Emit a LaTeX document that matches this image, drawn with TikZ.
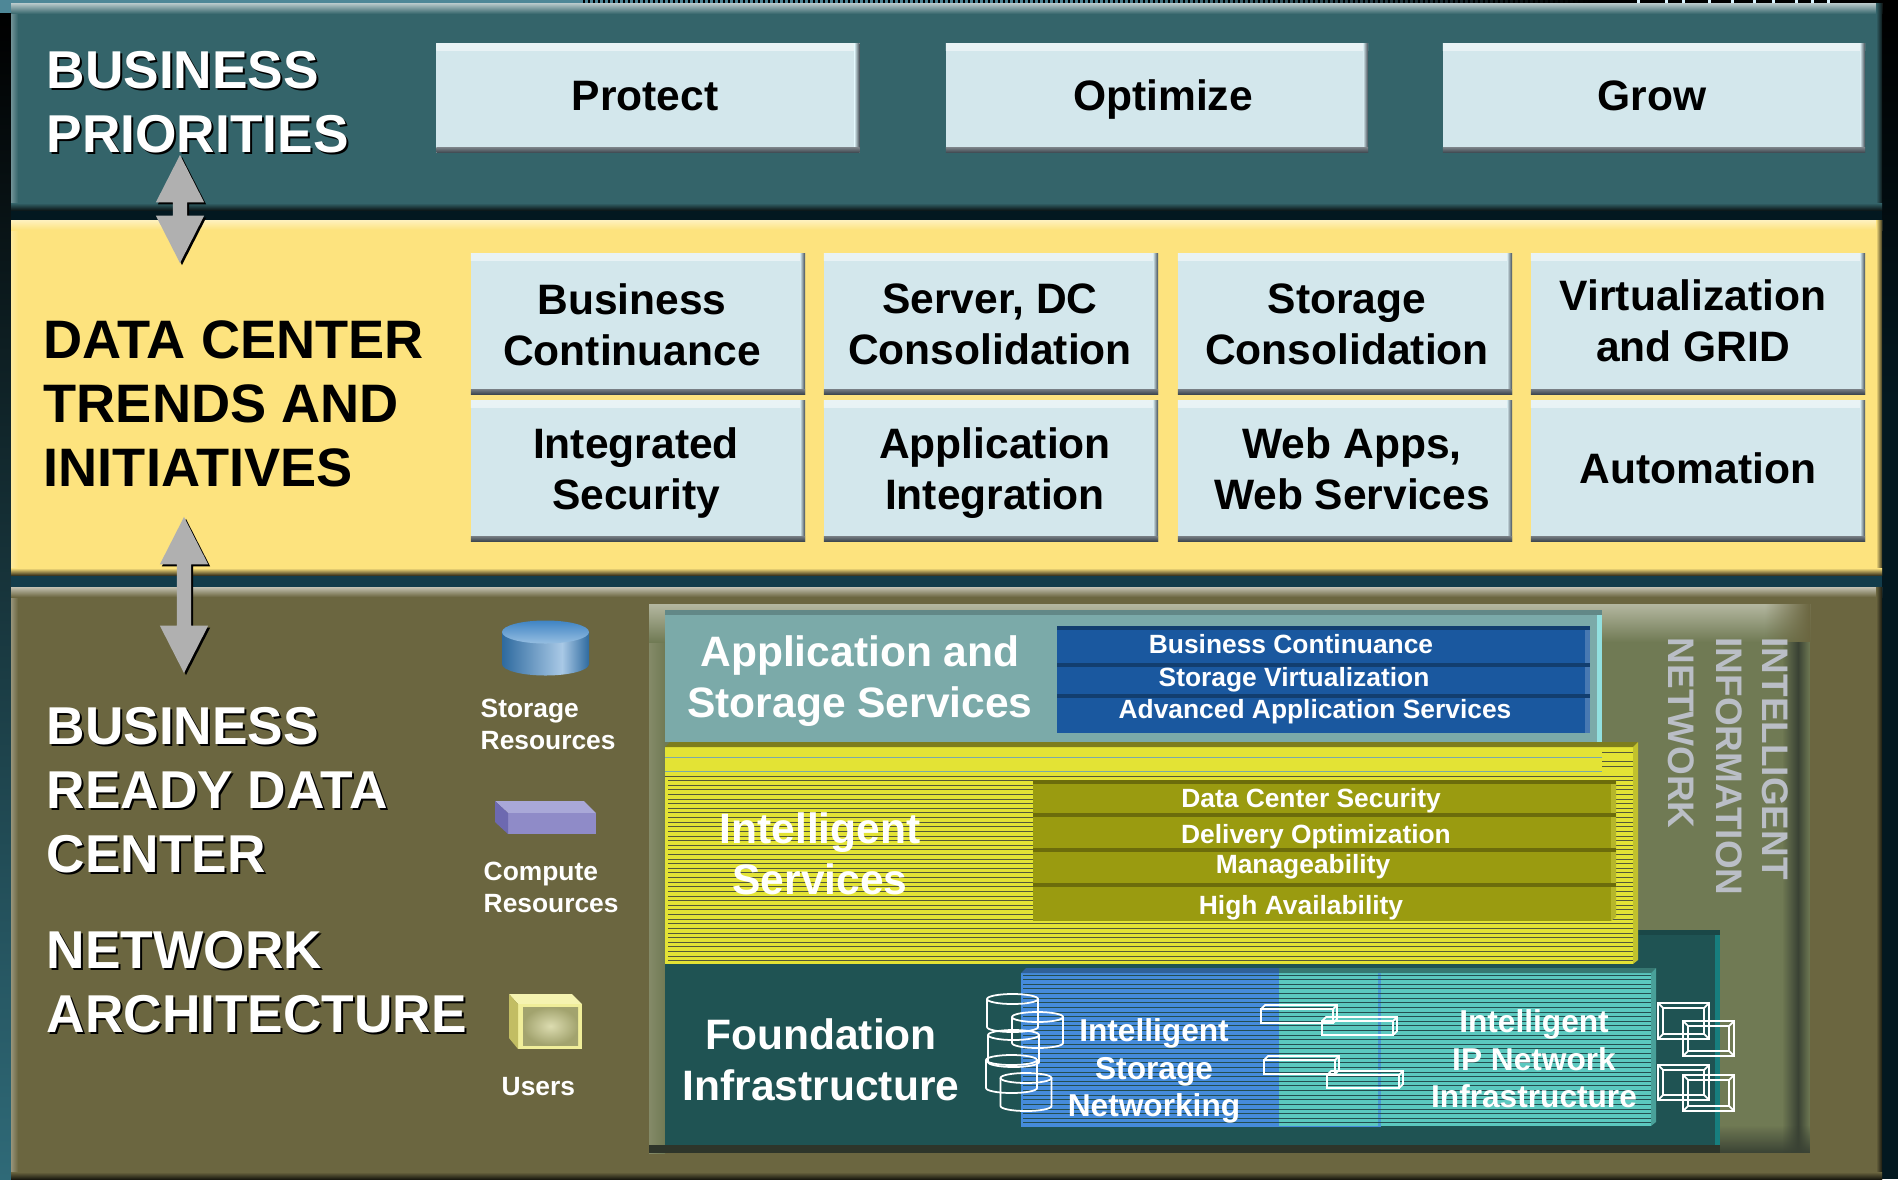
\documentclass[tikz,border=0pt]{standalone}
\usepackage{fontspec}
\setmainfont{Liberation Sans}
\usetikzlibrary{shapes,arrows,shadows,fadings}

\definecolor{prioteal}{RGB}{52,100,106}
\definecolor{trendyellow}{RGB}{253,227,126}
\definecolor{readyolive}{RGB}{107,102,64}
\definecolor{boxpale}{RGB}{211,231,236}
\definecolor{boxdark}{RGB}{62,72,80}
\definecolor{arrowgrey}{RGB}{176,176,176}
\definecolor{stripteal}{RGB}{78,135,151}
\definecolor{backteal}{RGB}{47,106,120}
\definecolor{gaptop}{RGB}{3,24,32}
\definecolor{gaplow}{RGB}{18,60,75}
\definecolor{panelgreen}{RGB}{112,122,84}
\definecolor{paneltop}{RGB}{180,183,160}
\definecolor{panelside}{RGB}{132,138,104}
\definecolor{paneldark}{RGB}{58,66,52}
\definecolor{appteal}{RGB}{123,170,169}
\definecolor{appblue}{RGB}{26,88,159}
\definecolor{svcyellow}{RGB}{227,227,53}
\definecolor{svcolive}{RGB}{154,155,16}
\definecolor{fndgreen}{RGB}{31,83,83}
\definecolor{fndblue}{RGB}{69,139,219}
\definecolor{fndaqua}{RGB}{91,200,191}
\definecolor{sidetext}{RGB}{186,190,198}
\definecolor{stripedark}{RGB}{84,88,58}
\definecolor{stripegreen}{RGB}{36,78,80}
\definecolor{cylside}{RGB}{46,106,159}
\definecolor{cyllight}{RGB}{169,201,230}
\definecolor{cyltop}{RGB}{63,132,196}
\definecolor{cyltoplow}{RGB}{150,190,225}
\definecolor{comptop}{RGB}{169,168,216}
\definecolor{compfront}{RGB}{143,139,200}
\definecolor{compside}{RGB}{109,105,176}
\definecolor{usertop}{RGB}{245,243,176}
\definecolor{userfront}{RGB}{240,238,154}
\definecolor{userside}{RGB}{194,189,99}
\definecolor{usernear}{RGB}{220,220,176}
\definecolor{userfar}{RGB}{162,163,110}

\tikzset{
    litebox/.style={rectangle, fill=boxpale, inner sep=0pt,
        path picture={
            \shade[top color=white!50!boxpale, bottom color=boxpale] (path picture bounding box.north west) rectangle ([yshift=-0.07cm]path picture bounding box.north east);
            \shade[left color=boxpale, right color=boxdark] ([xshift=-0.05cm]path picture bounding box.south east) rectangle (path picture bounding box.north east);
            \shade[top color=boxdark!70, bottom color=boxdark] (path picture bounding box.south west) rectangle ([yshift=0.05cm]path picture bounding box.south east);
        }},
    boxtext/.style={align=center, inner sep=0pt, font=\bigfont, execute at begin node=\strut, execute at end node=\strut},
    headline/.style={anchor=west, align=left, inner sep=0pt, font=\headfont},
    bigwhite/.style={text=white, align=center, inner sep=0pt, font=\bigfont},
    midwhite/.style={text=white, align=center, inner sep=0pt, font=\midfont},
    smallwhite/.style={text=white, inner sep=0pt, font=\smallfont},
    sidelabel/.style={rotate=-90, anchor=west, inner sep=0pt, text=sidetext, font=\sidefont},
    blockarrow/.style={double arrow, shape border rotate=90, fill=arrowgrey, inner sep=0.065cm,
        minimum width=0.47cm, double arrow tip angle=54, double arrow head extend=0.17cm,
        drop shadow={shadow xshift=0.02cm, shadow yshift=-0.02cm, fill=black, opacity=1}},
    wire/.style={draw=white, line width=0.5pt},
    stripe/.style={line width=0.25pt}
}

\newcommand{\headfont}{\fontsize{15.15}{18.1}\selectfont\bfseries}
\newcommand{\trendfont}{\fontsize{15.4}{18.1}\selectfont\bfseries}
\newcommand{\bigfont}{\fontsize{12.1}{14.6}\selectfont\bfseries}
\newcommand{\midfont}{\fontsize{9}{10.7}\selectfont\bfseries}
\newcommand{\smallfont}{\fontsize{7.5}{9.1}\selectfont\bfseries}
\newcommand{\sidefont}{\fontsize{10.5}{12}\selectfont\bfseries}

% one of the three bands: left, top, right, bottom, fill, top edge colour
\newcommand{\bandbox}[6]{
    \fill[#5] (#1,#2) rectangle (#3,#4);
    \shade[left color=#6!50!#5, right color=#5] (#1,#2) rectangle ({#1+7},#4);
    \shade[top color=#6, bottom color=#5] (#1,#2) rectangle (#3,{#2+10});
    \shade[left color=#5, right color=black!75!#5] ({#3-6},#2) rectangle (#3,#4);
    \shade[top color=#5, bottom color=black!75!#5] (#1,{#4-7}) rectangle (#3,#4);
}
% wire frame icons
\newcommand{\wirecyl}[3]{
    \draw[wire] (#1,#2) ellipse [x radius=0.255cm, y radius=0.05cm];
    \draw[wire] ({#1-25.5},#2) -- ({#1-25.5},#3) arc [start angle=180, end angle=360, x radius=0.255cm, y radius=0.05cm] -- ({#1+25.5},#2);
}
\newcommand{\wirebox}[4]{
    \draw[wire] (#1,{#2+4}) rectangle ({#3-4},#4);
    \draw[wire] (#1,{#2+4}) -- ({#1+4},#2) -- (#3,#2) -- (#3,{#4-4}) -- ({#3-4},#4);
    \draw[wire] ({#3-4},{#2+4}) -- (#3,#2);
}
\newcommand{\wirescreen}[4]{
    \draw[wire] (#1,#2) rectangle (#3,#4);
    \draw[wire] ({#1+5},{#2+5}) rectangle ({#3-5},{#4-5});
    \draw[wire] (#1,#2) -- ({#1+5},{#2+5}) (#3,#2) -- ({#3-5},{#2+5}) (#1,#4) -- ({#1+5},{#4-5}) (#3,#4) -- ({#3-5},{#4-5});
}

\begin{document}
\begin{tikzpicture}[x=0.01cm, y=-0.01cm]
    \useasboundingbox (0,0) rectangle (1898,1179);

    % Backdrop
    \fill[black] (0,0) rectangle (1898,1179);
    \shade[top color=black, bottom color=backteal] (0,13) rectangle (11,1179);
    \fill[gaptop] (11,210) rectangle (1882,220);
    \fill[gaplow] (11,575) rectangle (1882,587);
    \shade[top color=black, bottom color=gaptop] (1882,13) rectangle (1898,400);
    \fill[gaptop] (1882,400) rectangle (1898,1179);

    % Cut off strip along the top edge
    \fill[stripteal] (0,0) rectangle (580,13);
    \foreach \x [evaluate=\x as \p using {max(0,min(100,(1590-\x)/5))}] in {580,585,...,1590}
        \fill[stripteal!\p!black] (\x,0) rectangle ({\x+3},3);
    \foreach \x in {1637,1665,1682,1708,1731,1753,1772,1795,1811,1827}
        \fill[white!85!cyan] (\x,0) rectangle ({\x+3},4);

    % Bands
    \bandbox{11}{4}{1882}{210}{prioteal}{prioteal!40!white}
    \bandbox{11}{220}{1882}{575}{trendyellow}{trendyellow!50!white}
    \bandbox{11}{587}{1882}{1179}{readyolive}{readyolive!40!white}

    % Top band - priorities
    \node[litebox, minimum width=4.23cm, minimum height=1.09cm] (protect) at (648,98) {};
    \node[litebox, minimum width=4.22cm, minimum height=1.09cm] (optimize) at (1157,98) {};
    \node[litebox, minimum width=4.22cm, minimum height=1.09cm] (grow) at (1654,98) {};
    \node[boxtext] (protectText) at (645,100) {Protect};
    \node[boxtext] (optimizeText) at (1163,100) {Optimize};
    \node[boxtext] (growText) at (1652,100) {Grow};

    % Middle band - first row
    \node[litebox, minimum width=3.34cm, minimum height=1.40cm] (bizcont) at (638,324) {};
    \node[litebox, minimum width=3.34cm, minimum height=1.40cm] (serverdc) at (991,324) {};
    \node[litebox, minimum width=3.34cm, minimum height=1.40cm] (storecons) at (1345,324) {};
    \node[litebox, minimum width=3.34cm, minimum height=1.40cm] (virtgrid) at (1698,324) {};
    \node[boxtext] (bizcontText) at (632,332) {Business\\Continuance};
    \node[boxtext] (serverdcText) at (990,332) {Server, DC\\Consolidation};
    \node[boxtext] (storeconsText) at (1347,332) {Storage\\Consolidation};
    \node[boxtext] (virtgridText) at (1693,328) {Virtualization\\and GRID};

    % Middle band - second row
    \node[litebox, minimum width=3.34cm, minimum height=1.40cm] (intsec) at (638,471) {};
    \node[litebox, minimum width=3.34cm, minimum height=1.40cm] (appint) at (991,471) {};
    \node[litebox, minimum width=3.34cm, minimum height=1.40cm] (webapps) at (1345,471) {};
    \node[litebox, minimum width=3.34cm, minimum height=1.40cm] (autom) at (1698,471) {};
    \node[boxtext] (intsecText) at (636,476) {Integrated\\Security};
    \node[boxtext] (appintText) at (995,476) {Application\\Integration};
    \node[boxtext] (webappsText) at (1352,476) {Web Apps,\\Web Services};
    \node[boxtext] (automText) at (1698,473) {Automation};

    % Headings
    \foreach \col/\off in {black/2, white/0} {
        \node[headline, text=\col] (prioHead\col) at ({46+\off},{102+\off}) {BUSINESS\\PRIORITIES};
        \node[headline, text=\col] (readyHead\col) at ({46+\off},{790+\off}) {BUSINESS\\READY DATA\\CENTER};
        \node[headline, text=\col] (netHead\col) at ({46+\off},{982+\off}) {NETWORK\\ARCHITECTURE};
    }
    \node[headline, text=black, font=\trendfont] (trendHead) at (43,404) {DATA CENTER\\TRENDS AND\\INITIATIVES};

    % Block arrows between the bands
    \node[blockarrow, minimum height=1.08cm] (prioArrow) at (180,209) {};
    \node[blockarrow, minimum height=1.56cm] (trendArrow) at (184,595) {};

    % Legend icons - storage
    \begin{scope}
        \clip (502,632) -- (502,664) arc [start angle=180, end angle=360, x radius=0.435cm, y radius=0.115cm] -- (589,632) -- cycle;
        \shade[left color=cylside, right color=cyllight] (502,620) rectangle (562,680);
        \shade[left color=cyllight, right color=cylside] (562,620) rectangle (589,680);
    \end{scope}
    \shade[top color=cyltop, bottom color=cyltoplow] (545.5,632) ellipse [x radius=0.435cm, y radius=0.115cm];

    % Legend icons - compute
    \fill[comptop] (495,801) -- (584,801) -- (596,813) -- (508,813) -- cycle;
    \fill[compfront] (508,813) rectangle (596,834);
    \fill[compside] (495,801) -- (508,813) -- (508,834) -- (495,822) -- cycle;

    % Legend icons - users
    \fill[usertop] (509,994) -- (572,994) -- (582,1004) -- (518,1004) -- cycle;
    \fill[userfront] (518,1004) rectangle (582,1049);
    \fill[userside] (509,994) -- (518,1004) -- (518,1049) -- (509,1038) -- cycle;
    \shade[inner color=usernear, outer color=userfar] (523,1007) rectangle (578,1045);

    % Legend labels
    \node[smallwhite, anchor=west, align=left] (storeLabel) at (480,724) {Storage\\Resources};
    \node[smallwhite, anchor=west, align=left] (compLabel) at (483,887) {Compute\\Resources};
    \node[smallwhite, anchor=west] (userLabel) at (501,1087) {Users};

    % Information network panel
    \fill[panelgreen] (649,604) rectangle (1810,1153);
    \shade[left color=panelside, right color=panelgreen] (649,604) rectangle (665,1153);
    \shade[top color=paneltop, bottom color=panelgreen] (649,604) rectangle (1810,642);
    \fill[paneldark, path fading=west] (1782,642) rectangle (1798,1153);
    \fill[paneldark, path fading=east] (1798,642) rectangle (1810,1153);
    \fill[readyolive, path fading=west] (1765,604) rectangle (1810,642);
    \fill[paneldark, path fading=north] (1720,1125) rectangle (1810,1153);
    \fill[paneldark!80!black] (649,1145) rectangle (1720,1153);

    \node[sidelabel] (sideOne) at (1775,637) {INTELLIGENT};
    \node[sidelabel] (sideTwo) at (1729,637) {INFORMATION};
    \node[sidelabel] (sideThree) at (1681,637) {NETWORK};

    % Foundation panel
    \fill[fndgreen] (665,930) rectangle (1720,1145);
    \fill[fndgreen!85!black] (1638,930) rectangle (1720,935);
    \fill[fndgreen!75!cyan] (1715,935) rectangle (1720,1145);

    % Application panel
    \fill[appteal] (665,610) rectangle (1602,742);
    \fill[appteal!80!black] (665,610) rectangle (1602,615);
    \fill[appteal!60!cyan!60!white] (1597,615) rectangle (1602,742);
    \fill[appblue] (1057,626) rectangle (1585,733);
    \fill[appblue!80!white] (1585,630) rectangle (1590,733);
    \foreach \y in {626,663,694}
        \fill[appblue!70!black] (1057,\y) rectangle (1590,{\y+4});

    % Services panel
    \fill[svcyellow] (665,747) rectangle (1633,964);
    \fill[svcyellow!55!black] (670,742) -- (1638,742) -- (1633,747) -- (665,747) -- cycle;
    \fill[svcyellow!85!black] (1633,747) -- (1638,742) -- (1638,960) -- (1633,964) -- cycle;
    \foreach \y in {780.5,785.12,...,961}
        \draw[stripe, stripedark] (668,\y) -- (1633,\y);
    \foreach \y in {752,761,766,776}
        \draw[stripe, stripedark] (1602,\y) -- (1633,\y);
    \foreach \y in {757,771}
        \draw[stripe, appteal] (665,\y) -- (1602,\y);
    \draw[stripe, stripedark] (665,776) -- (1602,776);
    \fill[svcolive] (1033,780) rectangle (1611,921);
    \fill[svcyellow!80!black] (1611,784) -- (1616,780) -- (1616,917) -- (1611,921) -- cycle;
    \foreach \y in {780,813,848,883}
        \fill[svcolive!70!black] (1033,\y) rectangle (1616,{\y+4});

    % Blue and aqua blocks in the foundation
    \fill[fndblue] (1021,973) rectangle (1381,1127);
    \fill[fndblue!70!black] (1026,968) -- (1381,968) -- (1381,973) -- (1021,973) -- cycle;
    \fill[fndaqua] (1279,973) rectangle (1651,1126);
    \fill[fndaqua!60!black] (1279,968) -- (1656,968) -- (1651,973) -- (1279,973) -- cycle;
    \fill[fndaqua!80!black] (1651,973) -- (1656,968) -- (1656,1122) -- (1651,1126) -- cycle;
    \fill[fndblue!70!fndaqua] (1378,973) rectangle (1381,1126);
    \foreach \y in {975,979.62,...,1124}
        \draw[stripe, stripegreen] (1023,\y) -- (1651,\y);

    % Wire frame storage
    \wirecyl{1012.5}{999}{1027}
    \wirecyl{1037.5}{1017}{1043}
    \wirecyl{1013.5}{1035}{1062}
    \wirecyl{1011.5}{1060}{1088}
    \wirecyl{1026}{1078}{1106}

    % Wire frame switches
    \wirebox{1261}{1005}{1337}{1023}
    \wirebox{1322}{1017}{1397}{1035}
    \wirebox{1264}{1056}{1339}{1074}
    \wirebox{1327}{1071}{1403}{1088}

    % Wire frame screens
    \wirescreen{1658}{1003}{1709}{1039}
    \wirescreen{1683}{1021}{1734}{1056}
    \wirescreen{1658}{1065}{1709}{1100}
    \wirescreen{1683}{1075}{1734}{1111}

    % Panel texts
    \node[bigwhite] (appTitle) at (860,681) {Application and\\Storage Services};
    \node[smallwhite] (appOne) at (1291,644) {Business Continuance};
    \node[smallwhite] (appTwo) at (1294,680) {Storage Virtualization};
    \node[smallwhite] (appThree) at (1315,712) {Advanced Application Services};

    \node[bigwhite] (svcTitle) at (820,854) {Intelligent\\Services};
    \node[smallwhite] (svcOne) at (1311,801) {Data Center Security};
    \node[smallwhite] (svcTwo) at (1316,837) {Delivery Optimization};
    \node[smallwhite] (svcThree) at (1303,867) {Manageability};
    \node[smallwhite] (svcFour) at (1301,908) {High Availability};

    \node[bigwhite] (fndTitle) at (821,1060) {Foundation\\Infrastructure};
    \node[midwhite] (fndStore) at (1154,1071) {Intelligent\\Storage\\Networking};
    \node[midwhite] (fndNet) at (1534,1059) {Intelligent\\IP Network\\Infrastructure};
\end{tikzpicture}
\end{document}
